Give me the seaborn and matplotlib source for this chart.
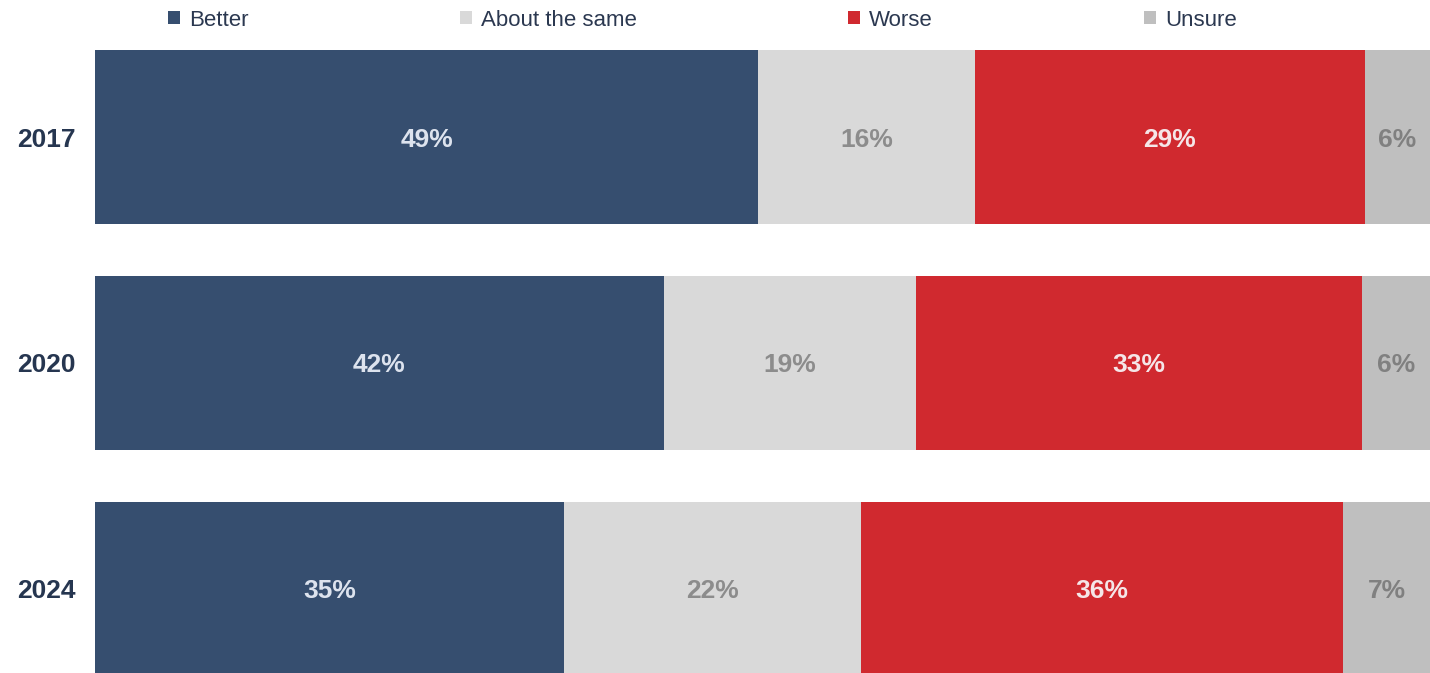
import matplotlib
matplotlib.use("Agg")
import matplotlib.pyplot as plt
import seaborn as sns
import numpy as np
from matplotlib.patches import Patch

# data
years = ["2017", "2020", "2024"]
categories = ["Better", "About the same", "Worse", "Unsure"]
better = [49.7, 42.6, 35.1]
same = [16.2, 18.9, 22.3]
worse = [29.2, 33.4, 36.1]
unsure = [4.9, 5.1, 6.5]
labels = [
    ["49%", "42%", "35%"],
    ["16%", "19%", "22%"],
    ["29%", "33%", "36%"],
    ["6%", "6%", "7%"],
]

colors = ["#364E6F", "#D9D9D9", "#D0292F", "#BFBFBF"]
text_colors = ["#DDE3EE", "#8C8C8C", "#F5E6E8", "#808080"]

sns.set_theme(style="white")
plt.rcParams["font.family"] = ["Liberation Sans", "DejaVu Sans"]

fig = plt.figure(figsize=(14.3, 6.73), dpi=100)
ax = fig.add_axes([95 / 1430, -3 / 673, 1335 / 1430, 626 / 673])

series = np.array([better, same, worse, unsure])
cum = series.cumsum(axis=0)

# stacked bars: draw cumulative totals from the back to the front
for i in range(len(categories) - 1, -1, -1):
    sns.barplot(x=cum[i], y=years, orient="h", color=colors[i],
                width=0.77, saturation=1, linewidth=0, ax=ax)

for i in range(len(categories)):
    for j in range(len(years)):
        mid = cum[i][j] - series[i][j] / 2
        ax.text(mid, j, labels[i][j], ha="center", va="center_baseline",
                fontsize=19, fontweight="bold", color=text_colors[i])

ax.set_xlim(0, cum[-1].max())
ax.set_ylim(2.385, -0.385)
ax.set_xlabel("")
ax.set_ylabel("")
ax.set_xticks([])
ax.tick_params(axis="y", length=0, pad=14)
for lab in ax.get_yticklabels():
    lab.set_fontsize(19)
    lab.set_fontweight("bold")
    lab.set_color("#263650")
sns.despine(ax=ax, left=True, bottom=True)

handles = [Patch(facecolor=c, edgecolor="none") for c in colors]
fig.legend(handles, categories, loc="center left",
           bbox_to_anchor=(168 / 1430, 1 - 20 / 673), ncol=4, frameon=False,
           fontsize=16, handlelength=0.55, handleheight=0.55,
           handletextpad=0.4, columnspacing=9.5, borderpad=0,
           borderaxespad=0, labelcolor="#2B3850")

fig.savefig("out.png", dpi=100)
